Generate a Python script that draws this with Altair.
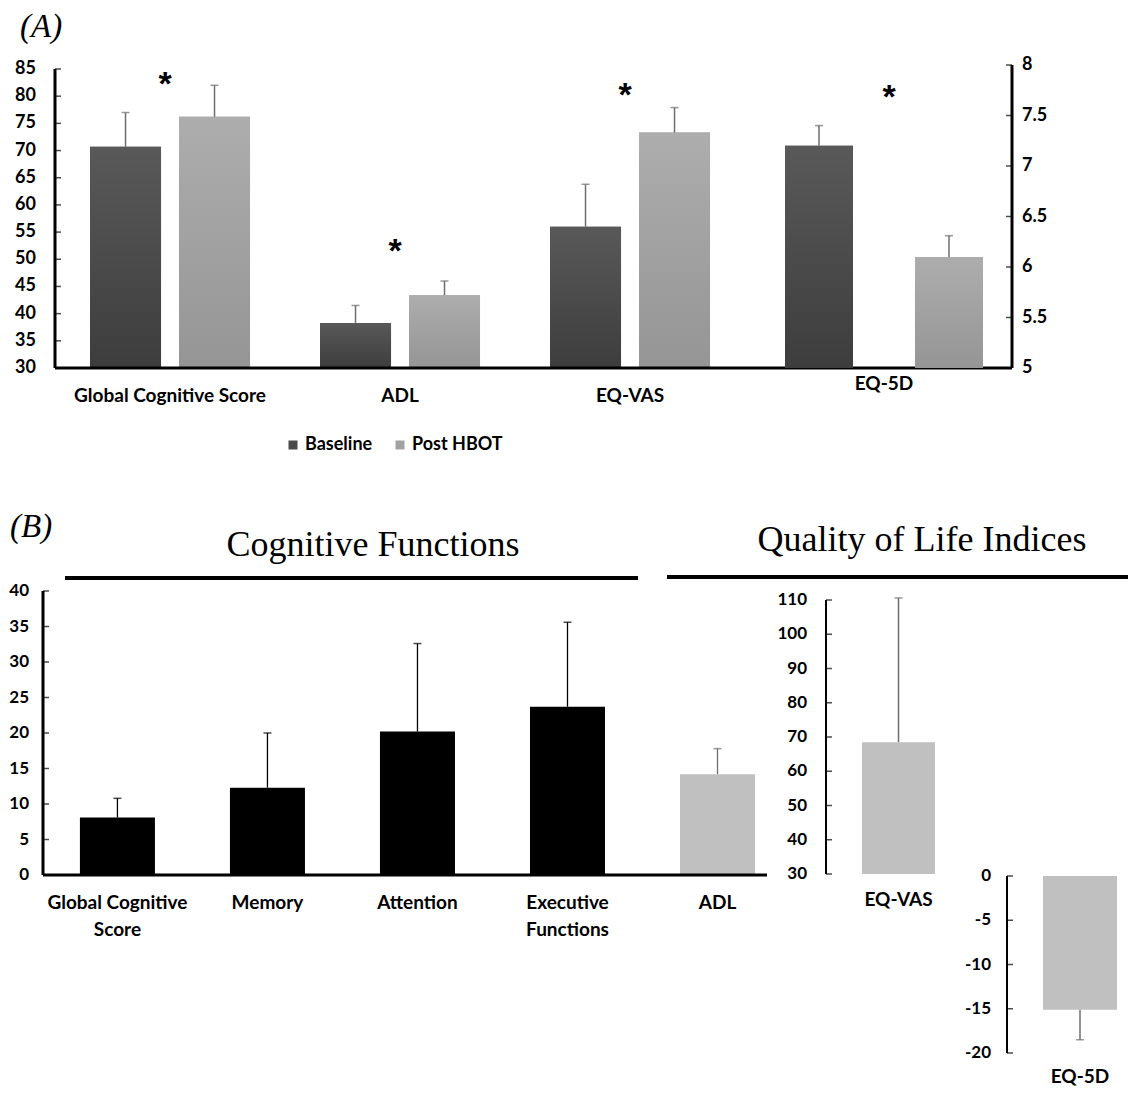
import altair as alt
import pandas as pd

W, H = 1120, 1083
LF = "Lato"

# ---------------- Panel A data ----------------
a_cats = ["Global Cognitive Score", "ADL", "EQ-VAS"]
a_groups = ["Baseline", "Post HBOT"]
a_base = [70.7, 38.3, 56.0]
a_base_up = [77.0, 41.5, 63.8]
a_post = [76.2, 43.4, 73.3]
a_post_up = [82.0, 46.0, 77.9]
a_star = [83.0, 52.2, 81.0]
a_left_ticks = [30, 35, 40, 45, 50, 55, 60, 65, 70, 75, 80, 85]
a_left_labels = ["30", "35", "40", "45", "50", "55", "60", "65", "70", "75", "80", "85"]

e5_cats = ["EQ-5D"]
e5_base, e5_base_up = [7.2], [7.4]
e5_post, e5_post_up = [6.1], [6.31]
e5_star = [7.72]
a_right_ticks = [5, 5.5, 6, 6.5, 7, 7.5, 8]
a_right_labels = ["5", "5.5", "6", "6.5", "7", "7.5", "8"]

# ---------------- Panel B data ----------------
b_cats = ["Global Cognitive Score", "Memory", "Attention", "Executive Functions", "ADL"]
b_labels = ["Global Cognitive\nScore", "Memory", "Attention", "Executive\nFunctions", "ADL"]
b_vals = [8.1, 12.3, 20.2, 23.7, 14.2]
b_up = [10.8, 20.0, 32.6, 35.6, 17.8]
b_kind = ["cog", "cog", "cog", "cog", "qol"]
b_ticks = [0, 5, 10, 15, 20, 25, 30, 35, 40]
b_tick_labels = ["0", "5", "10", "15", "20", "25", "30", "35", "40"]

vas_cats = ["EQ-VAS"]
vas_val, vas_up = [68.5], [110.6]
vas_ticks = [30, 40, 50, 60, 70, 80, 90, 100, 110]
vas_tick_labels = ["30", "40", "50", "60", "70", "80", "90", "100", "110"]

d5_cats = ["EQ-5D"]
d5_val, d5_low = [-15.1], [-18.5]
d5_ticks = [0, -5, -10, -15, -20]
d5_tick_labels = ["0", "-5", "-10", "-15", "-20"]

panel_tags = ["(A)", "(B)"]
section_titles = ["Cognitive Functions", "Quality of Life Indices"]

dark, light, qol_gray = "#4a4a4a", "#a2a2a2", "#c0c0c0"
err_gray = "#6e6e6e"


def vgrad(top, bottom):
    return {"gradient": "linear", "x1": 0, "x2": 0, "y1": 0, "y2": 1,
            "stops": [{"offset": 0, "color": top}, {"offset": 1, "color": bottom}]}


grad_dark = vgrad("#595959", "#3d3d3d")
grad_light = vgrad("#adadad", "#959595")


def y_axis_layers(scale, ticks, labels, x, label_x, align="right", width=3.0, inward=1,
                  size=18):
    """Axis line, inward ticks and labels drawn through the panel's own y scale."""
    df = pd.DataFrame({"v": ticks, "lab": labels})
    dom = pd.DataFrame({"lo": [min(ticks)], "hi": [max(ticks)]})
    line = alt.Chart(dom).mark_rule(color="black", strokeWidth=width).encode(
        x=alt.value(x), y=alt.Y("lo:Q", scale=scale, axis=None), y2="hi:Q")
    tk = alt.Chart(df).mark_tick(color="black", size=6, thickness=1.5,
                                 orient="horizontal").encode(
        x=alt.value(x + 3 * inward), y=alt.Y("v:Q", scale=scale, axis=None))
    lb = alt.Chart(df).mark_text(align=align, baseline="middle", font=LF,
                                 fontWeight="bold", fontSize=size, color="black").encode(
        x=alt.value(label_x), y=alt.Y("v:Q", scale=scale, axis=None), text="lab:N")
    return [line, tk, lb]


def base_line(scale, lo, x0, x1, width=3.0):
    dom = pd.DataFrame({"lo": [lo]})
    return alt.Chart(dom).mark_rule(color="black", strokeWidth=width).encode(
        y=alt.Y("lo:Q", scale=scale, axis=None), x=alt.value(x0), x2=alt.value(x1))


def cat_labels(cats, labels, xscale, ytop):
    df = pd.DataFrame({"cat": cats, "lab": labels})
    return alt.Chart(df).mark_text(align="center", baseline="top", font=LF,
                                   fontWeight="bold", fontSize=19, color="black",
                                   lineBreak="\n", lineHeight=27).encode(
        x=alt.X("cat:N", scale=xscale, axis=None), y=alt.value(ytop), text="lab:N")


def grouped_panel(df, xscale, yscale, offscale, base, stars_df, star_dx, legend):
    is_base = alt.datum.grp == a_groups[0]
    bars = alt.Chart(df).mark_bar().encode(
        x=alt.X("cat:N", scale=xscale, axis=None),
        xOffset=alt.XOffset("grp:N", scale=offscale),
        y=alt.Y("val:Q", scale=yscale, axis=None),
        y2=alt.datum(base),
        color=alt.Color("grp:N", scale=color_scale, legend=legend),
    )
    shade = alt.Chart(df).mark_bar().encode(
        x=alt.X("cat:N", scale=xscale, axis=None),
        xOffset=alt.XOffset("grp:N", scale=offscale),
        y=alt.Y("val:Q", scale=yscale, axis=None),
        y2=alt.datum(base),
        fill=alt.condition(is_base, alt.value(grad_dark), alt.value(grad_light)),
    )
    err = alt.Chart(df).mark_rule(color=err_gray, strokeWidth=1.5).encode(
        x=alt.X("cat:N", scale=xscale, axis=None),
        xOffset=alt.XOffset("grp:N", scale=offscale),
        y=alt.Y("val:Q", scale=yscale, axis=None),
        y2="up:Q",
    )
    cap = alt.Chart(df).mark_tick(color=err_gray, size=8, thickness=1.5).encode(
        x=alt.X("cat:N", scale=xscale, axis=None),
        xOffset=alt.XOffset("grp:N", scale=offscale),
        y=alt.Y("up:Q", scale=yscale, axis=None),
    )
    star = alt.Chart(stars_df).mark_text(text="*", font="Liberation Sans", fontWeight="bold",
                                         fontSize=34, dy=5, dx=star_dx,
                                         color="black").encode(
        x=alt.X("cat:N", scale=xscale, axis=None),
        y=alt.Y("s:Q", scale=yscale, axis=None),
    )
    return [bars, shade, err, cap, star]


color_scale = alt.Scale(domain=a_groups, range=[dark, light])
legend = alt.Legend(orient="none", legendX=276, legendY=428, direction="horizontal",
                    title=None, symbolType="square", symbolSize=81, symbolStrokeWidth=0,
                    labelFont=LF, labelFontWeight="bold", labelFontSize=18,
                    labelColor="black", columnPadding=18, labelOffset=3, padding=0)

# ---------------- Panel A (left scale) ----------------
dfA = pd.DataFrame({
    "cat": a_cats * 2,
    "grp": [a_groups[0]] * 3 + [a_groups[1]] * 3,
    "val": a_base + a_post,
    "up": a_base_up + a_post_up,
})
dfA_star = pd.DataFrame({"cat": a_cats, "s": a_star})
xA_scale = alt.Scale(domain=a_cats, range=[47, 1004], paddingInner=0.3043,
                     paddingOuter=0.7326, align=0.1039)
yA_scale = alt.Scale(domain=[30, 85], range=[360, 61], nice=False, zero=False)
offA_scale = alt.Scale(domain=a_groups, paddingInner=0.202, paddingOuter=0)

panelA1 = alt.layer(
    *grouped_panel(dfA, xA_scale, yA_scale, offA_scale, 30, dfA_star, -5, legend),
    *y_axis_layers(yA_scale, a_left_ticks, a_left_labels, 47, 28),
    base_line(yA_scale, 30, 47, 1004),
    cat_labels(a_cats, a_cats, xA_scale, 378.5),
)

# ---------------- Panel A (right scale, EQ-5D) ----------------
dfE = pd.DataFrame({
    "cat": e5_cats * 2,
    "grp": a_groups,
    "val": e5_base + e5_post,
    "up": e5_base_up + e5_post_up,
})
dfE_star = pd.DataFrame({"cat": e5_cats, "s": e5_star})
xE_scale = alt.Scale(domain=e5_cats, range=[777, 975], paddingInner=0, paddingOuter=0)
yE_scale = alt.Scale(domain=[5, 8], range=[360, 57], nice=False, zero=False)
offE_scale = alt.Scale(domain=a_groups, paddingInner=0.477, paddingOuter=0)

panelA2 = alt.layer(
    *grouped_panel(dfE, xE_scale, yE_scale, offE_scale, 5, dfE_star, 5, None),
    *y_axis_layers(yE_scale, a_right_ticks, a_right_labels, 1004, 1014, align="left",
                   inward=-1),
    cat_labels(e5_cats, e5_cats, xE_scale, 366.5),
)

# ---------------- Panel B: cognitive + ADL ----------------
dfB = pd.DataFrame({"cat": b_cats, "val": b_vals, "up": b_up, "kind": b_kind})
xB_scale = alt.Scale(domain=b_cats, range=[35, 759], paddingInner=0.5,
                     paddingOuter=0.163, align=0.755)
yB_scale = alt.Scale(domain=[0, 40], range=[867, 583], nice=False)
is_cog = alt.datum.kind == "cog"

barsB = alt.Chart(dfB).mark_bar().encode(
    x=alt.X("cat:N", scale=xB_scale, axis=None),
    y=alt.Y("val:Q", scale=yB_scale, axis=None),
    y2=alt.datum(0),
    fill=alt.condition(is_cog, alt.value("#000000"), alt.value(qol_gray)),
)
errB = alt.Chart(dfB).mark_rule(strokeWidth=1.3).encode(
    x=alt.X("cat:N", scale=xB_scale, axis=None),
    y=alt.Y("val:Q", scale=yB_scale, axis=None),
    y2="up:Q",
    color=alt.condition(is_cog, alt.value("#000000"), alt.value(err_gray)),
)
capB = alt.Chart(dfB).mark_tick(size=8, thickness=1.5).encode(
    x=alt.X("cat:N", scale=xB_scale, axis=None),
    y=alt.Y("up:Q", scale=yB_scale, axis=None),
    color=alt.condition(is_cog, alt.value("#000000"), alt.value(err_gray)),
)
panelB1 = alt.layer(
    barsB, errB, capB,
    *y_axis_layers(yB_scale, b_ticks, b_tick_labels, 35, 21, size=17),
    base_line(yB_scale, 0, 35, 759),
    cat_labels(b_cats, b_labels, xB_scale, 885.5),
)

# ---------------- Panel B: EQ-VAS ----------------
dfV = pd.DataFrame({"cat": vas_cats, "val": vas_val, "up": vas_up})
xV_scale = alt.Scale(domain=vas_cats, range=[854, 927], paddingInner=0, paddingOuter=0)
yV_scale = alt.Scale(domain=[30, 110], range=[866, 592], nice=False, zero=False)
barsV = alt.Chart(dfV).mark_bar(color=qol_gray).encode(
    x=alt.X("cat:N", scale=xV_scale, axis=None),
    y=alt.Y("val:Q", scale=yV_scale, axis=None),
    y2=alt.datum(30),
)
errV = alt.Chart(dfV).mark_rule(color=err_gray, strokeWidth=1.5).encode(
    x=alt.X("cat:N", scale=xV_scale, axis=None),
    y=alt.Y("val:Q", scale=yV_scale, axis=None),
    y2="up:Q",
)
capV = alt.Chart(dfV).mark_tick(color=err_gray, size=8, thickness=1.5).encode(
    x=alt.X("cat:N", scale=xV_scale, axis=None),
    y=alt.Y("up:Q", scale=yV_scale, axis=None),
)
panelB2 = alt.layer(
    barsV, errV, capV,
    *y_axis_layers(yV_scale, vas_ticks, vas_tick_labels, 818, 799, width=2, size=17),
    cat_labels(vas_cats, vas_cats, xV_scale, 882.5),
)

# ---------------- Panel B: EQ-5D ----------------
dfD = pd.DataFrame({"cat": d5_cats, "val": d5_val, "low": d5_low})
xD_scale = alt.Scale(domain=d5_cats, range=[1035, 1109], paddingInner=0, paddingOuter=0)
yD_scale = alt.Scale(domain=[-20, 0], range=[1045, 868], nice=False)
barsD = alt.Chart(dfD).mark_bar(color=qol_gray).encode(
    x=alt.X("cat:N", scale=xD_scale, axis=None),
    y=alt.Y("val:Q", scale=yD_scale, axis=None),
    y2=alt.datum(0),
)
errD = alt.Chart(dfD).mark_rule(color=err_gray, strokeWidth=1.5).encode(
    x=alt.X("cat:N", scale=xD_scale, axis=None),
    y=alt.Y("val:Q", scale=yD_scale, axis=None),
    y2="low:Q",
)
capD = alt.Chart(dfD).mark_tick(color=err_gray, size=8, thickness=1.5).encode(
    x=alt.X("cat:N", scale=xD_scale, axis=None),
    y=alt.Y("low:Q", scale=yD_scale, axis=None),
)
panelB3 = alt.layer(
    barsD, errD, capD,
    *y_axis_layers(yD_scale, d5_ticks, d5_tick_labels, 999, 983, width=2, size=17),
    cat_labels(d5_cats, d5_cats, xD_scale, 1060),
)


# ---------------- Titles and rules ----------------
def free_text(t, x, y, size, italic=False, align="center"):
    kw = dict(font="Liberation Serif", fontSize=size, align=align, baseline="middle",
              color="black")
    if italic:
        kw["fontStyle"] = "italic"
    return alt.Chart(pd.DataFrame({"t": [t]})).mark_text(**kw).encode(
        text="t:N", x=alt.value(x), y=alt.value(y))


tagA = free_text(panel_tags[0], 12, 19, 33, italic=True, align="left")
tagB = free_text(panel_tags[1], 2, 519, 33, italic=True, align="left")
titleCog = free_text(section_titles[0], 365, 537, 36)
titleQol = free_text(section_titles[1], 914, 532, 36)
lineCog = alt.Chart(pd.DataFrame({"t": [section_titles[0]]})).mark_rule(
    color="black", strokeWidth=4).encode(x=alt.value(57), x2=alt.value(630), y=alt.value(570))
lineQol = alt.Chart(pd.DataFrame({"t": [section_titles[1]]})).mark_rule(
    color="black", strokeWidth=4).encode(x=alt.value(659), x2=alt.value(1120), y=alt.value(569))

chart = alt.layer(
    panelA1, panelA2, panelB1, panelB2, panelB3,
    tagA, tagB, titleCog, titleQol, lineCog, lineQol,
).resolve_scale(
    x="independent", y="independent", xOffset="independent"
).properties(
    width=W, height=H, padding=0, background="white",
    autosize=alt.AutoSizeParams(type="none"),
).configure_view(strokeWidth=0, stroke="transparent")

chart.save("out.html", embed_options={"renderer": "svg", "actions": False})
